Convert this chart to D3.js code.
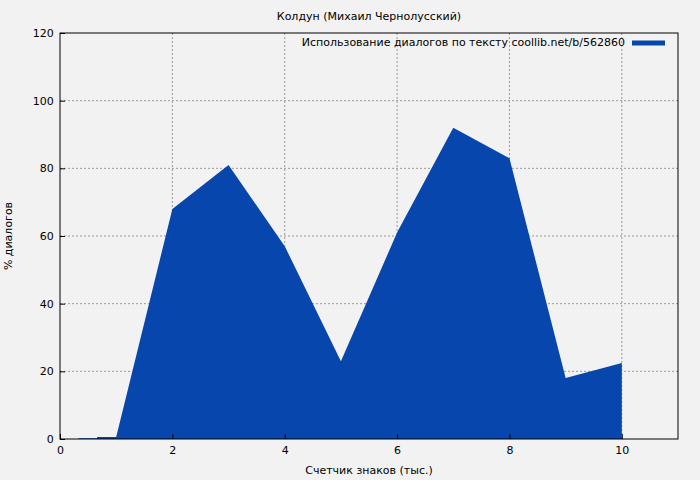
<!DOCTYPE html>
<html><head><meta charset="utf-8">
<script src="https://cdn.jsdelivr.net/npm/d3@7"></script>
<style>body{margin:0;background:#f2f2f2}text{font-family:"DejaVu Sans",sans-serif}</style>
</head><body>
<svg id="chart"></svg>
<script>
// Chart data
var xValues = [0.33, 0.66, 0.66, 1, 2, 3, 4, 5, 6, 7, 8, 9, 10];
var yValues = [0.2, 0.2, 0.6, 0.6, 68, 81, 57, 23, 61, 92, 83, 18, 22.5];
var xTicks = [0, 2, 4, 6, 8, 10];
var yTicks = [0, 20, 40, 60, 80, 100, 120];

var svgWidth = 700, svgHeight = 480;
var margin = {top: 33, right: 22, bottom: 41, left: 60};
var chartWidth = svgWidth - margin.left - margin.right;
var chartHeight = svgHeight - margin.top - margin.bottom;

var svg = d3.select("#chart").attr("width", svgWidth).attr("height", svgHeight);
svg.append("rect").attr("width", svgWidth).attr("height", svgHeight).attr("fill", "#f2f2f2");
var chartGroup = svg.append("g").attr("transform", `translate(${margin.left}, ${margin.top})`);

var x = d3.scaleLinear().domain([0, 11]).range([0, chartWidth]);
var y = d3.scaleLinear().domain([0, 120]).range([chartHeight, 0]);

// grid
chartGroup.selectAll(".gx").data(xTicks.slice(1)).enter().append("line")
  .attr("x1", d => x(d)).attr("x2", d => x(d)).attr("y1", 0).attr("y2", chartHeight)
  .attr("stroke", "#999").attr("stroke-dasharray", "2,2");
chartGroup.selectAll(".gy").data(yTicks.slice(1, -1)).enter().append("line")
  .attr("y1", d => y(d)).attr("y2", d => y(d)).attr("x1", 0).attr("x2", chartWidth)
  .attr("stroke", "#999").attr("stroke-dasharray", "2,2");

var data = xValues.map((v, i) => ({x: v, y: yValues[i]}));
var area = d3.area().x(d => x(d.x)).y0(y(0)).y1(d => y(d.y));
chartGroup.append("path").attr("d", area(data)).attr("fill", "#0646ad");

// frame
chartGroup.append("rect").attr("width", chartWidth).attr("height", chartHeight)
  .attr("fill", "none").attr("stroke", "#000");

var bottomAxis = d3.axisBottom(x).tickValues(xTicks).tickSizeInner(-5).tickSizeOuter(0);
var leftAxis = d3.axisLeft(y).tickValues(yTicks).tickSizeInner(-5).tickSizeOuter(0);
var gb = chartGroup.append("g").attr("transform", `translate(0, ${chartHeight})`).call(bottomAxis);
var gl = chartGroup.append("g").call(leftAxis);
[gb, gl].forEach(g => {
  g.select(".domain").remove();
  g.selectAll("text").attr("font-size", 11).attr("fill", "#000");
});
gb.selectAll("text").attr("dy", "1.1em");
gl.selectAll("text").attr("dx", "-0.3em");

// legend
chartGroup.append("text").attr("x", 565).attr("y", 13).attr("text-anchor", "end")
  .attr("font-size", 11).text("Использование диалогов по тексту coollib.net/b/562860");
chartGroup.append("line").attr("x1", 572).attr("x2", 605).attr("y1", 10).attr("y2", 10)
  .attr("stroke", "#0646ad").attr("stroke-width", 5);

// titles
svg.append("text").attr("x", 369).attr("y", 20).attr("text-anchor", "middle")
  .attr("font-size", 11).text("Колдун (Михаил Чернолусский)");
svg.append("text").attr("x", 369).attr("y", 474).attr("text-anchor", "middle")
  .attr("font-size", 11).text("Счетчик знаков (тыс.)");
svg.append("text").attr("transform", "translate(12, 236) rotate(-90)").attr("text-anchor", "middle")
  .attr("font-size", 11).text("% диалогов");
</script>
</body></html>
